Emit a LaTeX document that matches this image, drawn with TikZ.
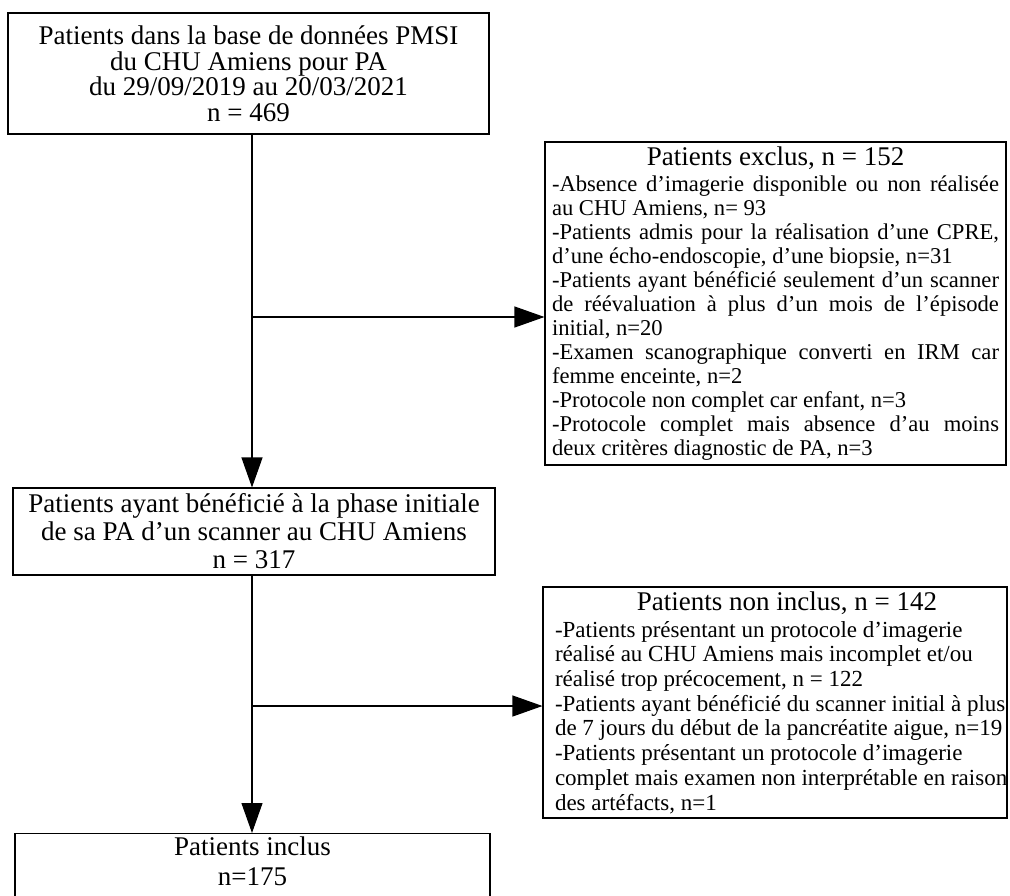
\documentclass[tikz,border=0pt]{standalone}
\usepackage{fontspec}
\setmainfont{Liberation Serif}
\usetikzlibrary{arrows.meta}
\newcommand\jline[1]{\makebox[447pt][s]{\spaceskip=0pt\xspaceskip=0pt\relax #1}}
\hbadness=10000
\hfuzz=100pt
\begin{document}
\begin{tikzpicture}[x=1pt,y=-1pt,
  box/.style={draw=black, line width=1.1pt, inner sep=0pt, align=center},
  arr/.style={draw=black, line width=1.1pt, -{Triangle[length=30pt,width=21pt]}}]
\useasboundingbox (0,0) rectangle (1010,895);
\clip (0,0) rectangle (1010,895);
\fill[white] (0,0) rectangle (1010,895);

\node[box, minimum width=481pt, minimum height=121pt,
      font=\fontsize{27}{25.5}\selectfont] (b1) at (248.5,73.5)
  {Patients dans la base de données PMSI\\du CHU Amiens pour PA\\du 29/09/2019 au 20/03/2021\\n = 469};

\node[box, align=flush left, text width=447pt, inner xsep=7pt, minimum height=323pt,
      font=\fontsize{22.6}{24}\selectfont] (b2) at (775.5,303.5)
  {\makebox[447pt][c]{\fontsize{27}{26}\selectfont Patients exclus, n = 152}\\[2pt]
   \jline{-Absence d’imagerie disponible ou non réalisée}\\
   \mbox{au CHU Amiens, n= 93}\\
   \jline{-Patients admis pour la réalisation d’une CPRE,}\\
   \mbox{d’une écho-endoscopie, d’une biopsie, n=31}\\
   \jline{-Patients ayant bénéficié seulement d’un scanner}\\
   \jline{de réévaluation à plus d’un mois de l’épisode}\\
   \mbox{initial, n=20}\\
   \jline{-Examen scanographique converti en IRM car}\\
   \mbox{femme enceinte, n=2}\\
   \mbox{-Protocole non complet car enfant, n=3}\\
   \jline{-Protocole complet mais absence d’au moins}\\
   \mbox{deux critères diagnostic de PA, n=3}};

\node[box, minimum width=482pt, minimum height=87pt,
      font=\fontsize{27}{28}\selectfont] (b3) at (254,531.5)
  {Patients ayant bénéficié à la phase initiale\\de sa PA d’un scanner au CHU Amiens\\n = 317};

\node[box, align=flush left, text width=440pt, inner xsep=12pt, minimum height=231pt,
      font=\fontsize{23}{24.7}\selectfont] (b4) at (775,702.5)
  {\makebox[464pt][c]{\fontsize{27}{26}\selectfont Patients non inclus, n = 142}\\[2.3pt]
   \mbox{-Patients présentant un protocole d’imagerie}\\
   \mbox{réalisé au CHU Amiens mais incomplet et/ou}\\
   \mbox{réalisé trop précocement, n = 122}\\
   \mbox{-Patients ayant bénéficié du scanner initial à plus}\\
   \mbox{de 7 jours du début de la pancréatite aigue, n=19}\\
   \mbox{-Patients présentant un protocole d’imagerie}\\
   \mbox{complet mais examen non interprétable en raison}\\
   \mbox{des artéfacts, n=1}};

\node[box, minimum width=475pt, anchor=north, inner ysep=3.5pt, text depth=70pt,
      font=\fontsize{27}{30}\selectfont] (b5) at (252.5,833)
  {Patients inclus\\n=175};

\coordinate (t) at (252,0);
\coordinate (j1) at (252,317);
\coordinate (j2) at (252,706);
\draw[arr] (b1.south -| t) -- (b3.north -| t);
\draw[arr] (j1) -- (j1 -| b2.west);
\draw[arr] (b3.south -| t) -- (b5.north -| t);
\draw[arr] (j2) -- (j2 -| b4.west);
\end{tikzpicture}
\end{document}
